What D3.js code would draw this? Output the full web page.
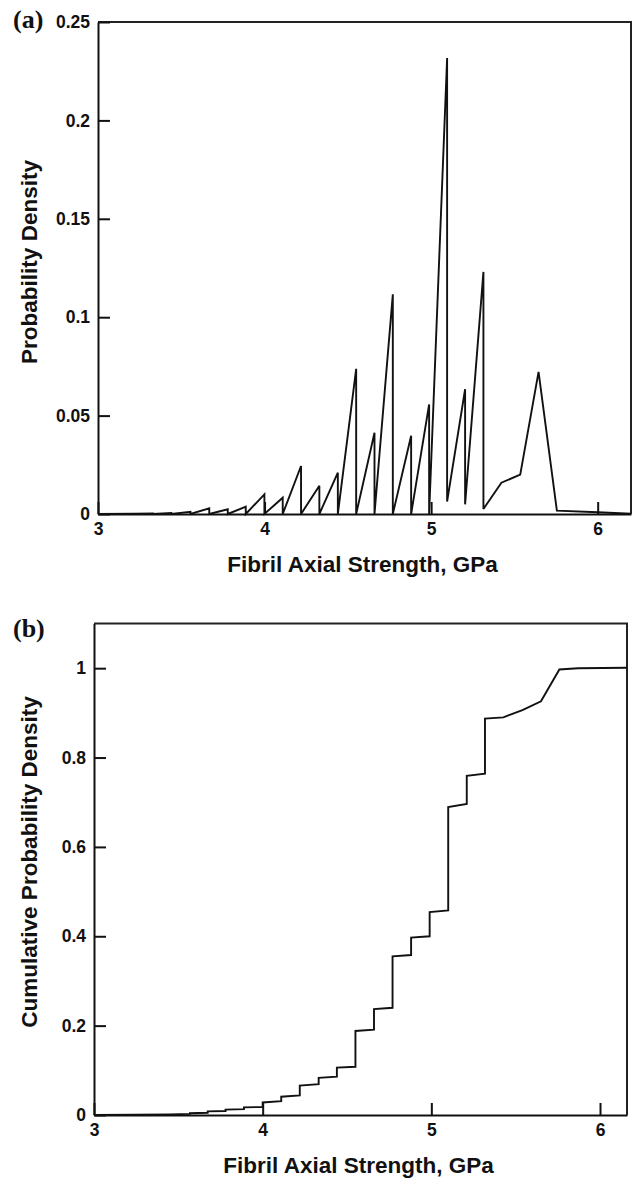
<!DOCTYPE html>
<html><head><meta charset="utf-8">
<script src="https://cdn.jsdelivr.net/npm/d3@7"></script>
<style>body{margin:0;background:#fff}</style>
</head><body><svg id="c" width="633" height="1178"></svg>
<script>
// ---- Data ----
const strengthTicks = [3, 4, 5, 6];
const strengthTickLabels = ["3", "4", "5", "6"];
const pdfTicks = [0, 0.05, 0.1, 0.15, 0.2, 0.25];
const pdfTickLabels = ["0", "0.05", "0.1", "0.15", "0.2", "0.25"];
const cdfTicks = [0, 0.2, 0.4, 0.6, 0.8, 1];
const cdfTickLabels = ["0", "0.2", "0.4", "0.6", "0.8", "1"];

// (a) probability density: repeated strengths give the vertical drops
const pdfStrength = [3.00, 3.22, 3.33, 3.33, 3.44, 3.44, 3.555, 3.555, 3.668, 3.668, 3.779, 3.779, 3.887, 3.887,
  3.999, 3.999, 4.109, 4.109, 4.219, 4.219, 4.329, 4.329, 4.44, 4.44, 4.55, 4.55, 4.66, 4.66, 4.77, 4.77,
  4.88, 4.88, 4.988, 4.988, 5.096, 5.096, 5.204, 5.204, 5.314, 5.314, 5.422, 5.535, 5.645, 5.755, 6.00, 6.20];
const pdfDensity = [0, 0.0001, 0.0003, 0, 0.0005, 0, 0.0011, 0, 0.0029, 0, 0.0024, 0, 0.0037, 0,
  0.0100, 0, 0.0083, 0, 0.0244, 0, 0.0144, 0, 0.0210, 0, 0.0738, 0, 0.0413, 0, 0.1116, 0,
  0.0398, 0, 0.0557, 0, 0.2317, 0.0063, 0.0634, 0.0049, 0.1230, 0.0025, 0.0159, 0.0200, 0.0722, 0.0017, 0.0009, 0.0001];

// (b) cumulative probability density
const cdfStrength = [3.00, 3.25, 3.45, 3.569, 3.569, 3.674, 3.674, 3.78, 3.78, 3.889, 3.889, 4.00, 4.00,
  4.11, 4.11, 4.22, 4.22, 4.332, 4.332, 4.44, 4.44, 4.55, 4.55, 4.66, 4.66, 4.77, 4.77, 4.88, 4.88,
  4.99, 4.99, 5.10, 5.10, 5.21, 5.21, 5.318, 5.318, 5.427, 5.54, 5.65, 5.759, 5.87, 6.16];
const cdfValue = [0, 0.0005, 0.0015, 0.0025, 0.004, 0.005, 0.008, 0.009, 0.012, 0.013, 0.017, 0.018, 0.028,
  0.031, 0.041, 0.044, 0.066, 0.069, 0.083, 0.086, 0.106, 0.108, 0.188, 0.191, 0.237, 0.240, 0.355, 0.358, 0.397,
  0.400, 0.454, 0.458, 0.689, 0.696, 0.759, 0.764, 0.887, 0.890, 0.906, 0.926, 0.997, 1.000, 1.001];

const svg = d3.select("#c");
const SANS = "'Liberation Sans', Arial, Helvetica, sans-serif";
const SERIF = "'Liberation Serif', 'Times New Roman', serif";

function panel(o) {
  const x = d3.scaleLinear().domain(o.xDomain).range([o.left, o.right]);
  const y = d3.scaleLinear().domain(o.yDomain).range([o.bottom, o.top]);
  const g = svg.append("g");

  // frame (top & right)
  g.append("path")
    .attr("d", `M${o.left},${o.top}H${o.right}V${o.bottom}`)
    .attr("fill", "none").attr("stroke", "#222").attr("stroke-width", 2);

  const yAxis = d3.axisLeft(y).tickValues(o.yTicks)
    .tickFormat((d, i) => o.yLabels[i]).tickSizeInner(-12).tickSizeOuter(0).tickPadding(8);
  const xAxis = d3.axisBottom(x).tickValues(strengthTicks)
    .tickFormat((d, i) => strengthTickLabels[i]).tickSizeInner(-12).tickSizeOuter(0).tickPadding(9);

  const ya = g.append("g").attr("transform", `translate(${o.left},0)`).call(yAxis);
  const xa = g.append("g").attr("transform", `translate(0,${o.bottom})`).call(xAxis);
  [ya, xa].forEach(a => {
    a.selectAll("path, line").attr("stroke", "#111").attr("stroke-width", 2);
    a.selectAll("text").attr("fill", "#111").style("font-family", SANS)
      .style("font-weight", "bold").style("font-size", "17.5px");
  });

  // data line
  const pts = o.xs.map((v, i) => [v, o.ys[i]]);
  g.append("path").datum(pts)
    .attr("d", d3.line().x(d => x(d[0])).y(d => y(d[1])))
    .attr("fill", "none").attr("stroke", "#111").attr("stroke-width", 1.9)
    .attr("stroke-linejoin", "miter").attr("stroke-miterlimit", 3);

  // axis titles
  g.append("text").attr("x", (o.left + o.right) / 2 - 2).attr("y", o.bottom + 58)
    .attr("text-anchor", "middle").attr("fill", "#111")
    .style("font-family", SANS).style("font-weight", "bold").style("font-size", "22.5px")
    .text("Fibril Axial Strength, GPa");
  g.append("text").attr("transform", `translate(37,${o.yTitleCenter}) rotate(-90)`)
    .attr("text-anchor", "middle").attr("fill", "#111")
    .style("font-family", SANS).style("font-weight", "bold").style("font-size", "22.5px")
    .text(o.yTitle);

  // panel label
  g.append("text").attr("x", 13).attr("y", o.labelY).attr("fill", "#111")
    .style("font-family", SERIF).style("font-weight", "bold").style("font-size", "26px")
    .text(o.label);
}

panel({
  left: 98, right: 631, top: 22, bottom: 514,
  xDomain: [3, 6.2], yDomain: [0, 0.25],
  yTicks: pdfTicks, yLabels: pdfTickLabels,
  xs: pdfStrength, ys: pdfDensity,
  yTitle: "Probability Density", yTitleCenter: 262,
  label: "(a)", labelY: 28
});

panel({
  left: 94, right: 627, top: 623.5, bottom: 1115,
  xDomain: [3, 6.16], yDomain: [0, 1.1],
  yTicks: cdfTicks, yLabels: cdfTickLabels,
  xs: cdfStrength, ys: cdfValue,
  yTitle: "Cumulative Probability Density", yTitleCenter: 862,
  label: "(b)", labelY: 637
});
</script></body></html>
